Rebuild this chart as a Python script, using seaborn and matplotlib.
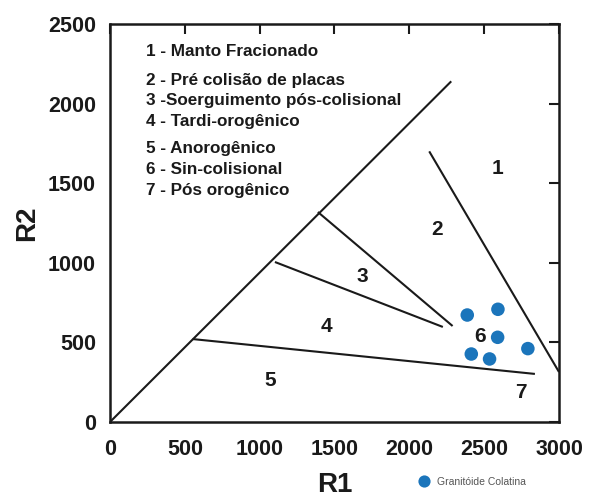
import matplotlib
matplotlib.use("Agg")
import matplotlib.pyplot as plt
import seaborn as sns
import pandas as pd

# Sample points (R1, R2)
r1_values = [2387, 2592, 2590, 2414, 2536, 2792]
r2_values = [672, 708, 532, 427, 396, 461]
series_name = "Granitóide Colatina"

# Field boundary segments: (x_start, x_end), (y_start, y_end)
boundary_x = [[0, 2280], [2133, 3000], [1389, 2289], [1102, 2224], [552, 2839]]
boundary_y = [[0, 2140], [1700, 314], [1319, 603], [1005, 597], [521, 302]]

# Field number labels
field_labels = ["1", "2", "3", "4", "5", "6", "7"]
field_x = [2592, 2184, 1683, 1443, 1069, 2472, 2745]
field_y = [1595, 1212, 911, 603, 258, 534, 188]

# Key text
key_lines = ["1 - Manto Fracionado", "2 - Pré colisão de placas",
             "3 -Soerguimento pós-colisional", "4 - Tardi-orogênico",
             "5 - Anorogênico", "6 - Sin-colisional", "7 - Pós orogênico"]
key_y = [2326, 2148, 2018, 1886, 1715, 1589, 1453]
key_x = 240

x_ticks = [0, 500, 1000, 1500, 2000, 2500, 3000]
y_ticks = [0, 500, 1000, 1500, 2000, 2500]

sns.set_theme(style="white")
plt.rcParams['font.family'] = ['Liberation Sans', 'DejaVu Sans']

fig = plt.figure(figsize=(5.94, 5.03), dpi=100)
ax = fig.add_axes([110/594, 1-422/503, 449/594, 398/503])

for xs, ys in zip(boundary_x, boundary_y):
    ax.plot(xs, ys, color="#1a1a1a", lw=1.5, solid_capstyle="butt")

df = pd.DataFrame({"R1": r1_values, "R2": r2_values, "grupo": series_name})
sns.scatterplot(data=df, x="R1", y="R2", hue="grupo", palette=["#1b75bb"],
                s=95, edgecolor="none", ax=ax, zorder=3)

for lab, x, y in zip(field_labels, field_x, field_y):
    ax.text(x, y, lab, ha="center", va="center", fontsize=15,
            fontweight="bold", color="#1a1a1a")

for t, y in zip(key_lines, key_y):
    ax.text(key_x, y, t, ha="left", va="center", fontsize=12.3,
            fontweight="bold", color="#1a1a1a")

ax.set_xlim(0, 3000)
ax.set_ylim(0, 2500)
ax.set_xticks(x_ticks)
ax.set_yticks(y_ticks)
ax.tick_params(axis="both", which="both", direction="in", length=7.5, width=1.5,
               top=True, right=True, labelsize=15.5, colors="#1a1a1a")
ax.tick_params(axis="x", pad=12)
ax.tick_params(axis="y", pad=10)
for lbl in ax.get_xticklabels() + ax.get_yticklabels():
    lbl.set_fontweight("bold")
for sp in ax.spines.values():
    sp.set_linewidth(1.8)
    sp.set_color("#1a1a1a")

ax.set_xlabel("R1", fontsize=20, fontweight="bold", labelpad=9, color="#1a1a1a")
ax.set_ylabel("R2", fontsize=20, fontweight="bold", labelpad=6, color="#1a1a1a")

handles, labels = ax.get_legend_handles_labels()
ax.legend(handles, labels, loc="center left", bbox_to_anchor=(414/594, 1-482/503),
          bbox_transform=fig.transFigure, frameon=False, fontsize=7.5,
          labelcolor="#555555", handletextpad=0.2, markerscale=0.9,
          borderaxespad=0, borderpad=0)

fig.savefig("out.png", dpi=100)
